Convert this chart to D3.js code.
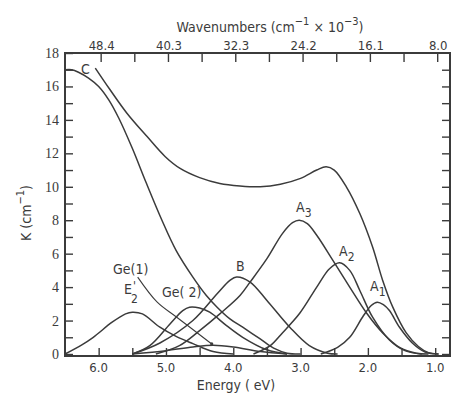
<!DOCTYPE html>
<html>
<head>
<meta charset="utf-8">
<script src="https://cdn.jsdelivr.net/npm/d3@7"></script>
<style>
  html, body { margin: 0; padding: 0; background: #fff; }
  svg { display: block; }
  .sans { font-family: "DejaVu Sans Condensed", "DejaVu Sans", sans-serif; font-stretch: condensed; }
  .serif { font-family: "Liberation Serif", "DejaVu Serif", serif; }
</style>
</head>
<body>
<svg id="chart" width="452" height="395"></svg>
<script>
// Absorption bands, as [photon energy (eV), K (cm^-1)] pairs
const bandC    = [[6.5,17.0],[6.4,17.0],[6.3,16.85],[6.15,16.5],[6.0,16.0],[5.85,15.2],[5.7,14.1],[5.5,12.3],[5.3,10.3],[5.06,8.0],[4.85,6.2],[4.6,4.6],[4.4,3.5],[4.24,2.8],[4.05,2.1],[3.86,1.6],[3.6,0.9],[3.4,0.35],[3.2,0.05],[3.0,0]];
const total    = [[6.05,17.1],[5.83,15.8],[5.58,14.4],[5.28,13.0],[5.01,11.8],[4.79,11.1],[4.5,10.55],[4.2,10.2],[3.9,10.05],[3.6,10.0],[3.3,10.15],[3.0,10.5],[2.76,11.0],[2.62,11.2],[2.5,11.0],[2.32,10.0],[2.12,8.4],[1.93,6.4],[1.78,4.4],[1.63,2.8],[1.43,1.26],[1.25,0.45],[1.1,0.08],[0.95,0]];
const bandA3   = [[5.15,0],[4.8,0.5],[4.5,1.4],[4.2,2.4],[3.9,3.5],[3.75,4.3],[3.5,5.7],[3.27,7.2],[3.12,7.85],[3.02,8.0],[2.9,7.8],[2.76,7.1],[2.52,5.6],[2.27,4.0],[2.02,2.45],[1.78,1.26],[1.53,0.4],[1.28,0.05],[1.1,0]];
const bandA2   = [[3.7,0],[3.45,0.5],[3.27,1.26],[3.01,2.45],[2.76,4.0],[2.57,5.1],[2.42,5.45],[2.27,5.0],[2.12,3.8],[1.93,2.2],[1.68,0.84],[1.45,0.2],[1.2,0]];
const bandA1   = [[2.7,0],[2.45,0.4],[2.27,1.0],[2.08,2.2],[1.95,2.9],[1.86,3.1],[1.77,2.95],[1.68,2.6],[1.53,1.6],[1.34,0.66],[1.15,0.12],[0.95,0]];
const bandB    = [[5.5,0],[5.09,0.66],[4.6,2.0],[4.24,3.6],[4.05,4.4],[3.95,4.6],[3.75,4.3],[3.5,3.2],[3.16,1.6],[2.87,0.5],[2.6,0.05],[2.45,0]];
const bandGe2  = [[5.5,0],[5.24,0.5],[4.94,1.8],[4.75,2.6],[4.65,2.8],[4.5,2.75],[4.35,2.5],[4.1,1.7],[3.86,1.0],[3.5,0.25],[3.2,0]];
const bandE2p  = [[6.5,0],[6.25,0.55],[6.08,1.0],[5.8,1.9],[5.6,2.4],[5.5,2.5],[5.35,2.4],[5.09,1.6],[4.85,1.05],[4.6,0.62],[4.3,0.15],[4.0,0]];
const bandGe1  = [[5.5,0],[5.0,0.2],[4.6,0.42],[4.3,0.52],[4.0,0.42],[3.6,0.15],[3.2,0]];
const ge1Pointer = [[5.42,4.6],[5.13,3.1],[4.84,2.2],[4.32,0.6]];

// Axis ticks
const energyTicks = [6.0, 5.0, 4.0, 3.0, 2.0, 1.0];
const energyMinor = [6.0, 5.5, 5.0, 4.5, 4.0, 3.5, 3.0, 2.5, 2.0, 1.5, 1.0];
const waveLabels  = ["48.4", "40.3", "32.3", "24.2", "16.1", "8.0"];
const kTicks      = [0, 2, 4, 6, 8, 10, 12, 14, 16, 18];
const kMinor      = d3.range(0, 19, 1);

const ink = "#3b3b3b";
const svg = d3.select("#chart");

const x = d3.scaleLinear().domain([6.5, 0.78]).range([65, 450]);
const y = d3.scaleLinear().domain([0, 18]).range([354, 53]);

const plotTop = 53, plotBottom = 356, plotLeft = 65, plotRight = 450;

// Curves
const line = d3.line()
  .x(d => x(d[0]))
  .y(d => y(d[1]))
  .curve(d3.curveCatmullRom.alpha(0.5));

const curves = [bandC, total, bandA3, bandA2, bandA1, bandB, bandGe2, bandE2p, bandGe1];
svg.append("g")
  .selectAll("path")
  .data(curves)
  .join("path")
  .attr("d", line)
  .attr("fill", "none")
  .attr("stroke", ink)
  .attr("stroke-width", 1.5);

svg.append("path")
  .attr("d", line(ge1Pointer))
  .attr("fill", "none")
  .attr("stroke", ink)
  .attr("stroke-width", 1.1);

svg.append("circle")
  .attr("cx", x(ge1Pointer[ge1Pointer.length - 1][0]))
  .attr("cy", y(ge1Pointer[ge1Pointer.length - 1][1]))
  .attr("r", 1.6)
  .attr("fill", ink);

// Frame
svg.append("rect")
  .attr("x", plotLeft).attr("y", plotTop)
  .attr("width", plotRight - plotLeft).attr("height", plotBottom - plotTop)
  .attr("fill", "none").attr("stroke", ink).attr("stroke-width", 2);

// Axes with inward ticks
const bottomAxis = d3.axisBottom(x).tickValues(energyMinor).tickSize(-8).tickFormat("");
svg.append("g").attr("transform", `translate(0,${plotBottom})`).call(bottomAxis)
  .call(g => g.select(".domain").remove());
const topAxis = d3.axisTop(x).tickValues(energyMinor).tickSize(-9).tickFormat("");
svg.append("g").attr("transform", `translate(2,${plotTop})`).call(topAxis)
  .call(g => g.select(".domain").remove());
const leftAxis = d3.axisLeft(y).tickValues(kMinor).tickSize(-8).tickFormat("");
svg.append("g").attr("transform", `translate(${plotLeft},0)`).call(leftAxis)
  .call(g => g.select(".domain").remove());
const rightAxis = d3.axisRight(y).tickValues(kMinor.filter(v => v < 18)).tickSize(-8).tickFormat("");
svg.append("g").attr("transform", `translate(${plotRight},0)`).call(rightAxis)
  .call(g => g.select(".domain").remove());
svg.selectAll(".tick line").attr("stroke", ink).attr("stroke-width", 1.4);

// Tick labels
svg.append("g").selectAll("text")
  .data(energyTicks)
  .join("text")
  .attr("class", "sans")
  .attr("x", d => x(d)).attr("y", 372)
  .attr("text-anchor", "middle")
  .attr("font-size", 13).attr("fill", ink)
  .text(d => d.toFixed(1));

svg.append("g").selectAll("text")
  .data(energyTicks)
  .join("text")
  .attr("class", "sans")
  .attr("x", d => x(d) + 3).attr("y", 50)
  .attr("text-anchor", "middle")
  .attr("font-size", 13).attr("fill", ink)
  .text((d, i) => waveLabels[i]);

svg.append("g").selectAll("text")
  .data(kTicks)
  .join("text")
  .attr("class", "serif")
  .attr("x", 59).attr("y", d => y(d) + 5)
  .attr("text-anchor", "end")
  .attr("font-size", 14).attr("fill", ink)
  .text(d => d);

// Axis titles
const topTitle = svg.append("text").attr("class", "sans")
  .attr("x", 270).attr("y", 32).attr("text-anchor", "middle")
  .attr("font-size", 14).attr("fill", ink);
topTitle.append("tspan").text("Wavenumbers (cm");
topTitle.append("tspan").attr("dy", -7).attr("font-size", 11).text("−1");
topTitle.append("tspan").attr("dy", 7).text(" × 10");
topTitle.append("tspan").attr("dy", -7).attr("font-size", 11).text("−3");
topTitle.append("tspan").attr("dy", 7).text(")");

svg.append("text").attr("class", "sans")
  .attr("x", 236).attr("y", 390).attr("text-anchor", "middle")
  .attr("font-size", 14).attr("fill", ink)
  .text("Energy ( eV)");

const yTitle = svg.append("text").attr("class", "sans")
  .attr("transform", "translate(31,213) rotate(-90)")
  .attr("text-anchor", "middle")
  .attr("font-size", 14).attr("fill", ink);
yTitle.append("tspan").text("K (cm");
yTitle.append("tspan").attr("dy", -7).attr("font-size", 11).text("−1");
yTitle.append("tspan").attr("dy", 7).text(")");

// Band labels
function bandLabel(px, py, main, sub) {
  const t = svg.append("text").attr("class", "sans")
    .attr("x", px).attr("y", py)
    .attr("font-size", 14).attr("fill", ink);
  t.append("tspan").text(main);
  if (sub) t.append("tspan").attr("dy", 5).attr("font-size", 12).text(sub);
}
bandLabel(81, 74, "C");
bandLabel(236, 271, "B");
bandLabel(296, 212, "A", "3");
bandLabel(339, 256, "A", "2");
bandLabel(370, 291, "A", "1");
bandLabel(113, 274, "Ge(1)");
bandLabel(162, 297, "Ge( 2)");
svg.append("text").attr("class", "sans")
  .attr("x", 124).attr("y", 294).attr("font-size", 14).attr("fill", ink).text("E");
svg.append("text").attr("class", "sans")
  .attr("x", 133).attr("y", 290).attr("font-size", 12).attr("fill", ink).text("'");
svg.append("text").attr("class", "sans")
  .attr("x", 131).attr("y", 303).attr("font-size", 12).attr("fill", ink).text("2");
</script>
</body>
</html>
